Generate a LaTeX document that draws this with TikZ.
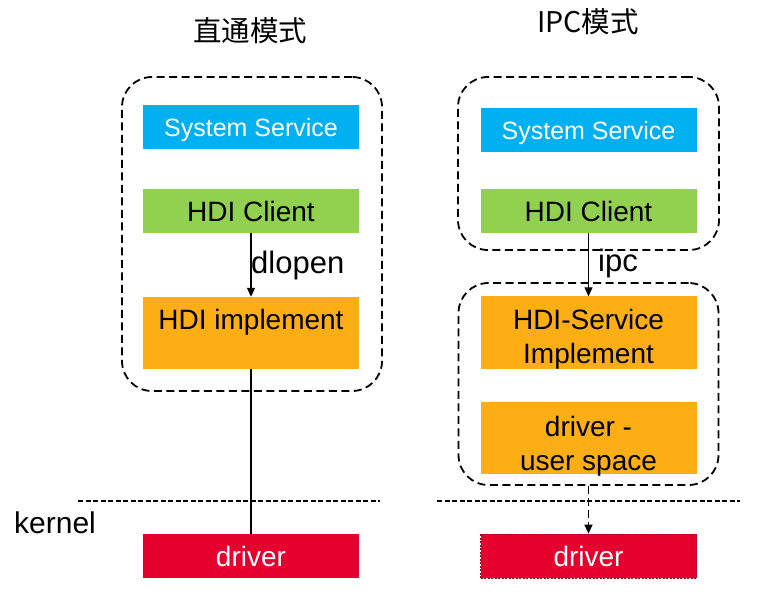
\documentclass[tikz,border=0pt]{standalone}
\usepackage{fontspec}
\setmainfont{Liberation Sans}
\newfontfamily\cjk{Noto Sans CJK SC}
\usetikzlibrary{arrows.meta}
\definecolor{cyanbox}{HTML}{00B0F0}
\definecolor{greenbox}{HTML}{92D050}
\definecolor{orangebox}{HTML}{FDAE14}
\definecolor{redbox}{HTML}{E6002D}
\definecolor{redborder}{HTML}{A00020}
\tikzset{
  box/.style={draw=none, minimum width=216pt, inner sep=0pt, text depth=0pt, font=\fontsize{28}{34}\selectfont},
  cbox/.style={box, fill=cyanbox, minimum height=44pt, text=white, font=\fontsize{25}{30}\selectfont},
  gbox/.style={box, fill=greenbox, minimum height=44pt},
  obox/.style={box, fill=orangebox, minimum height=72pt},
  rbox/.style={box, fill=redbox, minimum height=44pt, text=white},
  group/.style={draw, line width=1.8pt, dash pattern=on 8pt off 4.5pt, rounded corners=30pt, inner sep=0pt},
  kline/.style={draw, line width=1.2pt, dash pattern=on 5pt off 2.5pt},
  arr/.style={line width=1.2pt, -{Triangle[length=9pt,width=8pt]}},
  lbl/.style={font=\fontsize{28}{34}\selectfont, align=center, inner sep=0pt},
  ttl/.style={font=\cjk\fontsize{28.5}{34}\selectfont, inner sep=0pt}
}
\begin{document}
\begin{tikzpicture}[x=1pt,y=-1pt]
\useasboundingbox (0,0) rectangle (757,593);
% titles
\node[ttl] (t1) at (250,31) {直通模式};
\node[ttl] (t2) at (588,22) {IPC模式};
% left column
\node[group, minimum width=260pt, minimum height=314pt] (lgrp) at (252,234) {};
\node[cbox] (lsys) at (251,127) {System Service};
\node[gbox] (lcli) at (251,211) {HDI Client};
\node[obox] (limp) at (251,333) {};
\node[lbl] (limpt) at (251,322) {HDI implement};
\node[rbox] (ldrv) at (251,556) {driver};
\draw[arr] (lcli.south) -- (limp.north);
\node[lbl, font=\fontsize{31}{36}\selectfont, anchor=west] (dl) at (251,265) {dlopen};
\draw[line width=1.3pt] (limp.south) -- (ldrv.north);
% right column
\node[group, minimum width=261pt, minimum height=173pt] (rg1) at (588.5,163.5) {};
\node[group, minimum width=260pt, minimum height=202pt] (rg2) at (588.5,384) {};
\node[cbox] (rsys) at (588.5,130) {System Service};
\node[gbox] (rcli) at (588.5,211) {HDI Client};
\node[obox] (rimp) at (588.5,332.5) {};
\node[lbl] (rimpt) at (588.5,339) {HDI-Service\\Implement};
\node[obox] (rusr) at (588.5,438) {};
\node[lbl] (rusrt) at (588.5,446) {driver -\\user space};
\draw[arr] (rcli.south) -- (rimp.north);
\node[lbl, font=\fontsize{31}{36}\selectfont, anchor=west] (ipc) at (598,263) {ipc};
\node[rbox, draw=redborder, line width=0.8pt, dash pattern=on 2pt off 1.5pt] (rdrv) at (588.5,556) {driver};
\draw[arr, line width=1.4pt, dash pattern=on 8pt off 4pt] (rg2.south) -- (rdrv.north);
% kernel boundary
\coordinate (k1a) at (78,501);
\coordinate (k1b) at (380,501);
\coordinate (k2a) at (437,501);
\coordinate (k2b) at (740,501);
\draw[kline] (k1a) -- (k1b);
\draw[kline] (k2a) -- (k2b);
\node[lbl, anchor=west, font=\fontsize{30}{36}\selectfont] (kern) at (14,523) {kernel};
\end{tikzpicture}
\end{document}
